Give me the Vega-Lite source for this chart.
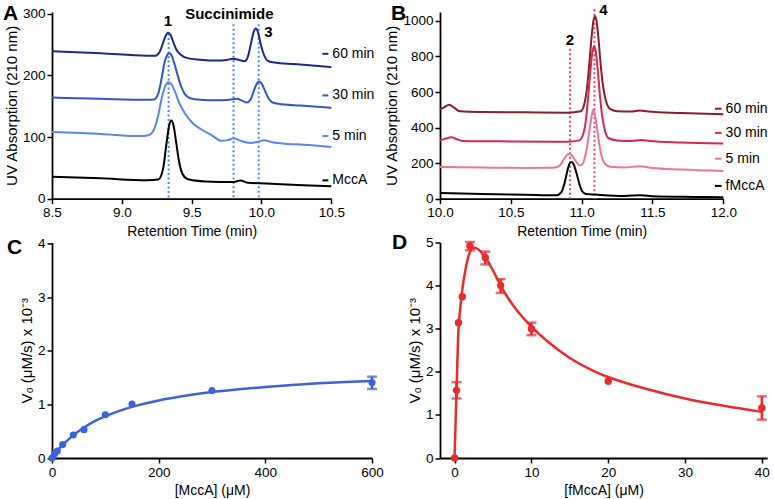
{
 "$schema": "https://vega.github.io/schema/vega-lite/v6.json",
 "padding": {"left": 3, "top": 3, "right": 0, "bottom": 0},
 "background": "white",
 "columns": 2,
 "align": "each",
 "bounds": "flush",
 "spacing": {"row": 43.5, "column": 68},
 "resolve": {"scale": {"x": "independent", "y": "independent", "color": "independent"}},
 "datasets": {
  "aTraces": [
   {"s":"60 min","t":8.5,"v":239},{"s":"60 min","t":8.85,"v":236},{"s":"60 min","t":9.18,"v":232},{"s":"60 min","t":9.24,"v":232},{"s":"60 min","t":9.275,"v":240},{"s":"60 min","t":9.3,"v":256},{"s":"60 min","t":9.318,"v":266},{"s":"60 min","t":9.333,"v":269},{"s":"60 min","t":9.35,"v":265},{"s":"60 min","t":9.37,"v":253},{"s":"60 min","t":9.39,"v":242},{"s":"60 min","t":9.42,"v":234},{"s":"60 min","t":9.47,"v":228},{"s":"60 min","t":9.56,"v":225.5},{"s":"60 min","t":9.68,"v":224},{"s":"60 min","t":9.75,"v":225},{"s":"60 min","t":9.8,"v":227},{"s":"60 min","t":9.84,"v":225},{"s":"60 min","t":9.88,"v":223},{"s":"60 min","t":9.905,"v":232},{"s":"60 min","t":9.925,"v":252},{"s":"60 min","t":9.945,"v":271},{"s":"60 min","t":9.96,"v":276},{"s":"60 min","t":9.975,"v":270},{"s":"60 min","t":9.995,"v":250},{"s":"60 min","t":10.02,"v":232},{"s":"60 min","t":10.05,"v":223},{"s":"60 min","t":10.11,"v":220.5},{"s":"60 min","t":10.28,"v":217.5},{"s":"60 min","t":10.5,"v":213.5},
   {"s":"30 min","t":8.5,"v":164},{"s":"30 min","t":8.85,"v":162},{"s":"30 min","t":9.18,"v":160.5},{"s":"30 min","t":9.23,"v":161},{"s":"30 min","t":9.26,"v":170},{"s":"30 min","t":9.285,"v":195},{"s":"30 min","t":9.305,"v":220},{"s":"30 min","t":9.325,"v":233},{"s":"30 min","t":9.34,"v":236},{"s":"30 min","t":9.355,"v":233},{"s":"30 min","t":9.375,"v":220},{"s":"30 min","t":9.4,"v":200},{"s":"30 min","t":9.425,"v":182},{"s":"30 min","t":9.45,"v":170},{"s":"30 min","t":9.49,"v":163},{"s":"30 min","t":9.56,"v":160.5},{"s":"30 min","t":9.68,"v":159.5},{"s":"30 min","t":9.77,"v":160.5},{"s":"30 min","t":9.825,"v":162},{"s":"30 min","t":9.86,"v":159},{"s":"30 min","t":9.895,"v":156},{"s":"30 min","t":9.925,"v":162},{"s":"30 min","t":9.95,"v":178},{"s":"30 min","t":9.97,"v":188},{"s":"30 min","t":9.985,"v":190},{"s":"30 min","t":10.0,"v":187},{"s":"30 min","t":10.025,"v":175},{"s":"30 min","t":10.05,"v":163},{"s":"30 min","t":10.08,"v":156},{"s":"30 min","t":10.12,"v":154},{"s":"30 min","t":10.28,"v":151},{"s":"30 min","t":10.5,"v":147.5},
   {"s":"5 min","t":8.5,"v":108},{"s":"5 min","t":8.85,"v":105},{"s":"5 min","t":9.13,"v":101.5},{"s":"5 min","t":9.19,"v":103},{"s":"5 min","t":9.23,"v":112},{"s":"5 min","t":9.26,"v":135},{"s":"5 min","t":9.285,"v":162},{"s":"5 min","t":9.31,"v":182},{"s":"5 min","t":9.335,"v":189},{"s":"5 min","t":9.355,"v":186},{"s":"5 min","t":9.38,"v":174},{"s":"5 min","t":9.41,"v":156},{"s":"5 min","t":9.45,"v":139},{"s":"5 min","t":9.51,"v":122},{"s":"5 min","t":9.58,"v":111},{"s":"5 min","t":9.65,"v":102},{"s":"5 min","t":9.71,"v":94},{"s":"5 min","t":9.76,"v":95},{"s":"5 min","t":9.8,"v":98},{"s":"5 min","t":9.85,"v":94},{"s":"5 min","t":9.92,"v":90.5},{"s":"5 min","t":9.97,"v":92},{"s":"5 min","t":10.02,"v":95},{"s":"5 min","t":10.07,"v":92},{"s":"5 min","t":10.15,"v":89.5},{"s":"5 min","t":10.3,"v":87.5},{"s":"5 min","t":10.5,"v":84},
   {"s":"MccA","t":8.5,"v":35.5},{"s":"MccA","t":8.85,"v":33},{"s":"MccA","t":9.18,"v":30},{"s":"MccA","t":9.26,"v":31},{"s":"MccA","t":9.295,"v":48},{"s":"MccA","t":9.32,"v":90},{"s":"MccA","t":9.34,"v":120},{"s":"MccA","t":9.355,"v":127},{"s":"MccA","t":9.37,"v":119},{"s":"MccA","t":9.39,"v":90},{"s":"MccA","t":9.41,"v":60},{"s":"MccA","t":9.435,"v":40},{"s":"MccA","t":9.47,"v":32},{"s":"MccA","t":9.6,"v":28},{"s":"MccA","t":9.8,"v":27},{"s":"MccA","t":9.85,"v":29.5},{"s":"MccA","t":9.9,"v":26},{"s":"MccA","t":10.1,"v":24},{"s":"MccA","t":10.3,"v":22},{"s":"MccA","t":10.5,"v":20}
  ],
  "aMarks": [{"t":9.335,"v":268},{"t":9.8,"v":283},{"t":9.98,"v":283}],
  "aLabels": [{"t":9.33,"v":289,"label":"1"},{"t":9.77,"v":300,"label":"Succinimide"},{"t":10.05,"v":270,"label":"3"}],
  "aLegend": [{"s":"60 min","t":10.436,"t2":10.479,"v":235},{"s":"30 min","t":10.436,"t2":10.479,"v":167.5},{"s":"5 min","t":10.436,"t2":10.479,"v":101.7},{"s":"MccA","t":10.436,"t2":10.479,"v":29.7}],
  "bTraces": [
   {"s":"60 min","t":10.0,"v":502},{"s":"60 min","t":10.03,"v":515},{"s":"60 min","t":10.065,"v":529},{"s":"60 min","t":10.1,"v":512},{"s":"60 min","t":10.14,"v":492},{"s":"60 min","t":10.3,"v":488},{"s":"60 min","t":10.6,"v":486},{"s":"60 min","t":10.9,"v":484},{"s":"60 min","t":10.994,"v":492},{"s":"60 min","t":11.018,"v":530},{"s":"60 min","t":11.038,"v":625},{"s":"60 min","t":11.054,"v":757},{"s":"60 min","t":11.07,"v":908},{"s":"60 min","t":11.082,"v":995},{"s":"60 min","t":11.094,"v":1028},{"s":"60 min","t":11.106,"v":995},{"s":"60 min","t":11.118,"v":908},{"s":"60 min","t":11.134,"v":757},{"s":"60 min","t":11.15,"v":640},{"s":"60 min","t":11.17,"v":555},{"s":"60 min","t":11.2,"v":505},{"s":"60 min","t":11.25,"v":492},{"s":"60 min","t":11.35,"v":490},{"s":"60 min","t":11.41,"v":496},{"s":"60 min","t":11.47,"v":490},{"s":"60 min","t":11.7,"v":482},{"s":"60 min","t":12.0,"v":475},
   {"s":"30 min","t":10.0,"v":328},{"s":"30 min","t":10.04,"v":338},{"s":"30 min","t":10.08,"v":345},{"s":"30 min","t":10.12,"v":334},{"s":"30 min","t":10.16,"v":325},{"s":"30 min","t":10.5,"v":322},{"s":"30 min","t":10.9,"v":320},{"s":"30 min","t":10.982,"v":328},{"s":"30 min","t":11.012,"v":365},{"s":"30 min","t":11.032,"v":455},{"s":"30 min","t":11.048,"v":589},{"s":"30 min","t":11.064,"v":740},{"s":"30 min","t":11.076,"v":825},{"s":"30 min","t":11.088,"v":857},{"s":"30 min","t":11.1,"v":825},{"s":"30 min","t":11.112,"v":740},{"s":"30 min","t":11.128,"v":589},{"s":"30 min","t":11.144,"v":470},{"s":"30 min","t":11.164,"v":385},{"s":"30 min","t":11.19,"v":340},{"s":"30 min","t":11.25,"v":328},{"s":"30 min","t":11.35,"v":325},{"s":"30 min","t":11.42,"v":330},{"s":"30 min","t":11.48,"v":324},{"s":"30 min","t":11.7,"v":316},{"s":"30 min","t":12.0,"v":310},
   {"s":"5 min","t":10.0,"v":178},{"s":"5 min","t":10.3,"v":175},{"s":"5 min","t":10.6,"v":173},{"s":"5 min","t":10.8,"v":174},{"s":"5 min","t":10.84,"v":183},{"s":"5 min","t":10.87,"v":215},{"s":"5 min","t":10.895,"v":245},{"s":"5 min","t":10.913,"v":253},{"s":"5 min","t":10.935,"v":240},{"s":"5 min","t":10.96,"v":210},{"s":"5 min","t":10.985,"v":188},{"s":"5 min","t":11.0,"v":190},{"s":"5 min","t":11.02,"v":225},{"s":"5 min","t":11.04,"v":300},{"s":"5 min","t":11.058,"v":400},{"s":"5 min","t":11.072,"v":470},{"s":"5 min","t":11.082,"v":501},{"s":"5 min","t":11.094,"v":470},{"s":"5 min","t":11.108,"v":400},{"s":"5 min","t":11.126,"v":300},{"s":"5 min","t":11.146,"v":225},{"s":"5 min","t":11.17,"v":192},{"s":"5 min","t":11.2,"v":180},{"s":"5 min","t":11.3,"v":176},{"s":"5 min","t":11.41,"v":182},{"s":"5 min","t":11.5,"v":172},{"s":"5 min","t":11.7,"v":164},{"s":"5 min","t":12.0,"v":156},
   {"s":"fMccA","t":10.0,"v":32},{"s":"fMccA","t":10.3,"v":26},{"s":"fMccA","t":10.6,"v":22},{"s":"fMccA","t":10.82,"v":19},{"s":"fMccA","t":10.855,"v":35},{"s":"fMccA","t":10.88,"v":90},{"s":"fMccA","t":10.9,"v":160},{"s":"fMccA","t":10.915,"v":198},{"s":"fMccA","t":10.93,"v":206},{"s":"fMccA","t":10.945,"v":190},{"s":"fMccA","t":10.965,"v":140},{"s":"fMccA","t":10.985,"v":80},{"s":"fMccA","t":11.005,"v":40},{"s":"fMccA","t":11.03,"v":27},{"s":"fMccA","t":11.1,"v":23},{"s":"fMccA","t":11.3,"v":15},{"s":"fMccA","t":11.42,"v":20},{"s":"fMccA","t":11.5,"v":14},{"s":"fMccA","t":11.8,"v":10},{"s":"fMccA","t":12.0,"v":8}
  ],
  "bMarks": [{"t":10.918,"v":844},{"t":11.09,"v":1065}],
  "bLabels": [{"t":10.917,"v":891,"label":"2"},{"t":11.153,"v":1060,"label":"4"}],
  "bLegend": [{"s":"60 min","t":11.941,"t2":11.988,"v":506},{"s":"30 min","t":11.941,"t2":11.988,"v":370},{"s":"5 min","t":11.941,"t2":11.988,"v":225},{"s":"fMccA","t":11.941,"t2":11.988,"v":72}],
  "cCurve": [{"x":0,"v":0},{"x":5,"v":0.068},{"x":10,"v":0.131},{"x":20,"v":0.244},{"x":30,"v":0.34},{"x":40,"v":0.427},{"x":60,"v":0.57},{"x":80,"v":0.69},{"x":100,"v":0.78},{"x":125,"v":0.877},{"x":150,"v":0.956},{"x":200,"v":1.076},{"x":250,"v":1.164},{"x":300,"v":1.232},{"x":350,"v":1.283},{"x":400,"v":1.328},{"x":450,"v":1.365},{"x":500,"v":1.395},{"x":550,"v":1.42},{"x":600,"v":1.44}],
  "cPts": [{"x":0,"v":0},{"x":5,"v":0.08},{"x":10,"v":0.13},{"x":20,"v":0.25},{"x":40,"v":0.43},{"x":60,"v":0.53},{"x":100,"v":0.81},{"x":150,"v":1.01},{"x":300,"v":1.26},{"x":600,"v":1.41}],
  "cErr": [{"x":600,"lo":1.29,"hi":1.52}],
  "dCurve": [{"x":0,"v":0},{"x":0.1,"v":0.65},{"x":0.25,"v":1.55},{"x":0.5,"v":2.95},{"x":0.75,"v":3.5},{"x":1,"v":3.9},{"x":1.5,"v":4.45},{"x":2,"v":4.78},{"x":2.5,"v":4.88},{"x":3,"v":4.85},{"x":4,"v":4.65},{"x":5,"v":4.35},{"x":6,"v":4.0},{"x":7,"v":3.7},{"x":8,"v":3.45},{"x":10,"v":3.05},{"x":12,"v":2.72},{"x":15,"v":2.32},{"x":18,"v":2.03},{"x":20,"v":1.88},{"x":25,"v":1.6},{"x":30,"v":1.38},{"x":35,"v":1.21},{"x":40,"v":1.07}],
  "dPts": [{"x":0,"v":0},{"x":0.25,"v":1.57},{"x":0.5,"v":3.14},{"x":1,"v":3.74},{"x":2,"v":4.92},{"x":4,"v":4.65},{"x":6,"v":4.0},{"x":10,"v":3.0},{"x":20,"v":1.78},{"x":40,"v":1.16}],
  "dErr": [{"x":0.25,"lo":1.38,"hi":1.76},{"x":2,"lo":4.82,"hi":5.01},{"x":4,"lo":4.49,"hi":4.79},{"x":6,"lo":3.83,"hi":4.15},{"x":10,"lo":2.85,"hi":3.14},{"x":40,"lo":0.89,"hi":1.43}]
 },
 "concat": [
  {
   "width": 279.3, "height": 186.7,
   "title": {"text": "A", "dx": -49, "dy": 21.3},
   "encoding": {
    "x": {"field": "t", "type": "quantitative", "title": "Retention Time (min)", "scale": {"domain": [8.5, 10.5], "nice": false, "zero": false}, "axis": {"values": [8.5, 9, 9.5, 10, 10.5], "format": ".1f"}},
    "y": {"field": "v", "type": "quantitative", "title": "UV Absorption (210 nm)", "scale": {"domain": [0, 302.8], "nice": false, "zero": false}, "axis": {"values": [0, 100, 200, 300]}}
   },
   "layer": [
    {"data": {"name": "aMarks"}, "mark": {"type": "rule", "strokeDash": [2, 2.5], "strokeWidth": 2, "color": "#4a86e8"}, "encoding": {"y2": {"datum": 0}}},
    {"data": {"name": "aTraces"}, "mark": {"type": "line", "interpolate": "monotone", "strokeWidth": 2}, "encoding": {"color": {"field": "s", "type": "nominal", "scale": {"domain": ["60 min", "30 min", "5 min", "MccA"], "range": ["#1c2a85", "#3355cc", "#5a86ec", "#000000"]}, "legend": null}}},
    {"data": {"name": "aLabels"}, "mark": {"type": "text", "fontWeight": "bold", "fontSize": 15, "baseline": "middle", "align": "center", "color": "#000"}, "encoding": {"text": {"field": "label"}}},
    {"data": {"name": "aLegend"}, "mark": {"type": "rule", "strokeWidth": 2}, "encoding": {"x2": {"field": "t2"}, "color": {"field": "s", "type": "nominal", "scale": {"domain": ["60 min", "30 min", "5 min", "MccA"], "range": ["#1c2a85", "#3355cc", "#5a86ec", "#000000"]}, "legend": null}}},
    {"data": {"name": "aLegend"}, "mark": {"type": "text", "align": "left", "baseline": "middle", "dx": 4, "fontSize": 14, "color": "#000"}, "encoding": {"x": {"field": "t2", "type": "quantitative", "title": "Retention Time (min)"}, "text": {"field": "s"}}}
   ]
  },
  {
   "width": 283.3, "height": 186.7,
   "title": {"text": "B", "dx": -49, "dy": 25},
   "encoding": {
    "x": {"field": "t", "type": "quantitative", "title": "Retention Time (min)", "scale": {"domain": [10, 12], "nice": false, "zero": false}, "axis": {"values": [10, 10.5, 11, 11.5, 12], "format": ".1f"}},
    "y": {"field": "v", "type": "quantitative", "title": "UV Absorption (210 nm)", "scale": {"domain": [0, 1050], "nice": false, "zero": false}, "axis": {"values": [0, 200, 400, 600, 800, 1000], "format": "d"}}
   },
   "layer": [
    {"data": {"name": "bMarks"}, "mark": {"type": "rule", "strokeDash": [2, 2.5], "strokeWidth": 2, "color": "#e0457e"}, "encoding": {"y2": {"datum": 0}}},
    {"data": {"name": "bTraces"}, "mark": {"type": "line", "interpolate": "monotone", "strokeWidth": 2}, "encoding": {"color": {"field": "s", "type": "nominal", "scale": {"domain": ["60 min", "30 min", "5 min", "fMccA"], "range": ["#8c1c2e", "#d6294d", "#f07496", "#000000"]}, "legend": null}}},
    {"data": {"name": "bLabels"}, "mark": {"type": "text", "fontWeight": "bold", "fontSize": 15, "baseline": "middle", "align": "center", "color": "#000"}, "encoding": {"text": {"field": "label"}}},
    {"data": {"name": "bLegend"}, "mark": {"type": "rule", "strokeWidth": 2}, "encoding": {"x2": {"field": "t2"}, "color": {"field": "s", "type": "nominal", "scale": {"domain": ["60 min", "30 min", "5 min", "fMccA"], "range": ["#8c1c2e", "#d6294d", "#f07496", "#000000"]}, "legend": null}}},
    {"data": {"name": "bLegend"}, "mark": {"type": "text", "align": "left", "baseline": "middle", "dx": 4, "fontSize": 14, "color": "#000"}, "encoding": {"x": {"field": "t2", "type": "quantitative", "title": "Retention Time (min)"}, "text": {"field": "s"}}}
   ]
  },
  {
   "width": 320, "height": 215.5,
   "title": {"text": "C", "dx": -45, "dy": 25},
   "encoding": {
    "x": {"field": "x", "type": "quantitative", "title": "[MccA] (μM)", "scale": {"domain": [0, 600], "nice": false, "zero": false}, "axis": {"values": [0, 200, 400, 600]}},
    "y": {"field": "v", "type": "quantitative", "title": "V₀ (μM/s) x 10⁻³", "scale": {"domain": [0, 4.028], "nice": false, "zero": false}, "axis": {"values": [0, 1, 2, 3, 4]}}
   },
   "layer": [
    {"data": {"name": "cCurve"}, "mark": {"type": "line", "interpolate": "monotone", "strokeWidth": 2.5, "color": "#3b63de"}},
    {"data": {"name": "cPts"}, "mark": {"type": "circle", "size": 50, "opacity": 1, "color": "#3b63de"}},
    {"data": {"name": "cErr"}, "mark": {"type": "rule", "strokeWidth": 2.5, "color": "#3b63de"}, "encoding": {"y": {"field": "lo", "type": "quantitative", "title": "V₀ (μM/s) x 10⁻³"}, "y2": {"field": "hi"}}},
    {"data": {"name": "cErr"}, "mark": {"type": "tick", "orient": "horizontal", "size": 10, "thickness": 2.5, "color": "#3b63de"}, "encoding": {"y": {"field": "lo", "type": "quantitative", "title": "V₀ (μM/s) x 10⁻³"}}},
    {"data": {"name": "cErr"}, "mark": {"type": "tick", "orient": "horizontal", "size": 10, "thickness": 2.5, "color": "#3b63de"}, "encoding": {"y": {"field": "hi", "type": "quantitative", "title": "V₀ (μM/s) x 10⁻³"}}}
   ]
  },
  {
   "width": 327.2, "height": 215.5,
   "title": {"text": "D", "dx": -48, "dy": 21},
   "encoding": {
    "x": {"field": "x", "type": "quantitative", "title": "[fMccA] (μM)", "scale": {"domain": [-1.9, 40.7], "nice": false, "zero": false}, "axis": {"values": [0, 10, 20, 30, 40]}},
    "y": {"field": "v", "type": "quantitative", "title": "V₀ (μM/s) x 10⁻³", "scale": {"domain": [0, 5], "nice": false, "zero": false}, "axis": {"values": [0, 1, 2, 3, 4, 5]}}
   },
   "layer": [
    {"data": {"name": "dCurve"}, "mark": {"type": "line", "interpolate": "monotone", "strokeWidth": 2.5, "color": "#ec2a2e"}},
    {"data": {"name": "dPts"}, "mark": {"type": "circle", "size": 55, "opacity": 1, "color": "#ec2a2e"}},
    {"data": {"name": "dErr"}, "mark": {"type": "rule", "strokeWidth": 2.5, "color": "#ec2a2e"}, "encoding": {"y": {"field": "lo", "type": "quantitative", "title": "V₀ (μM/s) x 10⁻³"}, "y2": {"field": "hi"}}},
    {"data": {"name": "dErr"}, "mark": {"type": "tick", "orient": "horizontal", "size": 10, "thickness": 2.5, "color": "#ec2a2e"}, "encoding": {"y": {"field": "lo", "type": "quantitative", "title": "V₀ (μM/s) x 10⁻³"}}},
    {"data": {"name": "dErr"}, "mark": {"type": "tick", "orient": "horizontal", "size": 10, "thickness": 2.5, "color": "#ec2a2e"}, "encoding": {"y": {"field": "hi", "type": "quantitative", "title": "V₀ (μM/s) x 10⁻³"}}}
   ]
  }
 ],
 "config": {
  "font": "Liberation Sans",
  "view": {"stroke": null},
  "axis": {"grid": false, "domainColor": "#000", "domainWidth": 1.8, "tickColor": "#000", "tickWidth": 1.5, "tickSize": 5, "labelColor": "#000", "labelFontSize": 13.5, "labelPadding": 2, "labelFlush": false, "labelOverlap": false, "titleColor": "#000", "titleFontSize": 14, "titleFontWeight": "normal", "titlePadding": 5, "labelFont": "Liberation Sans", "titleFont": "Liberation Sans"},
  "axisY": {"titleFontSize": 15, "titlePadding": 3},
  "title": {"fontSize": 21, "fontWeight": "bold", "anchor": "start", "frame": "group", "baseline": "alphabetic", "offset": 0, "color": "#000", "font": "Liberation Sans"}
 }
}
